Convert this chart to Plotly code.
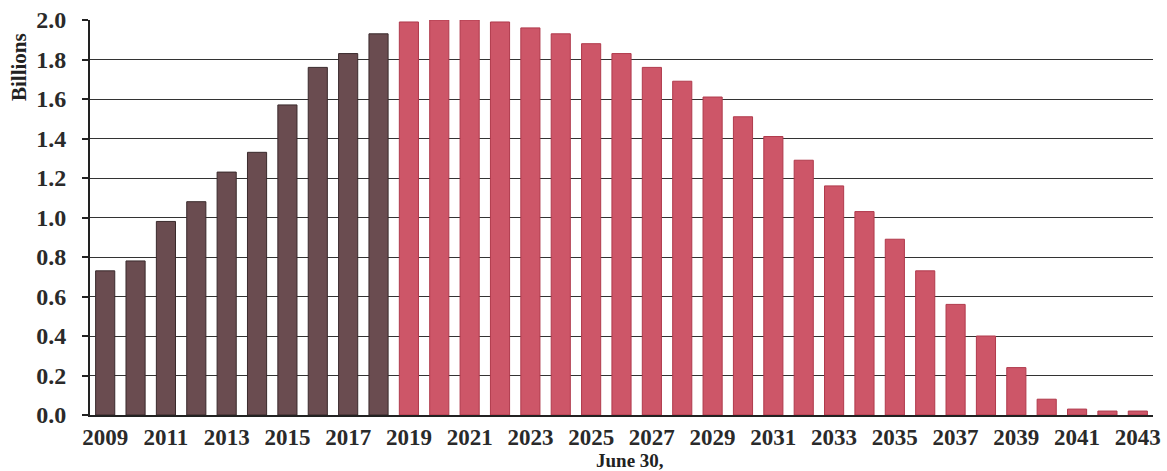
import plotly.graph_objects as go

actual_years = list(range(2009, 2019))
actual_values = [0.73, 0.78, 0.98, 1.08, 1.23, 1.33, 1.57, 1.76, 1.83, 1.93]

proj_years = list(range(2019, 2044))
proj_values = [1.99, 2.0, 2.0, 1.99, 1.96, 1.93, 1.88, 1.83, 1.76, 1.69,
               1.61, 1.51, 1.41, 1.29, 1.16, 1.03, 0.89, 0.73, 0.56, 0.40,
               0.24, 0.08, 0.03, 0.02, 0.02]

tick_years = list(range(2009, 2044, 2))
y_ticks = [0.0, 0.2, 0.4, 0.6, 0.8, 1.0, 1.2, 1.4, 1.6, 1.8, 2.0]

font_family = "Liberation Serif"

fig = go.Figure()
fig.add_trace(go.Bar(x=actual_years, y=actual_values, name="Actual",
                     marker=dict(color="#6a4c50", line=dict(color="#3a2a2c", width=1))))
fig.add_trace(go.Bar(x=proj_years, y=proj_values, name="Projected",
                     marker=dict(color="#cd5668", line=dict(color="#b03a4c", width=1))))

fig.update_layout(
    width=1167, height=471,
    margin=dict(l=90, r=14, t=20, b=56),
    paper_bgcolor="white", plot_bgcolor="white",
    barmode="overlay", bargap=0.37,
    showlegend=False,
    font=dict(family=font_family, color="#222222"),
)
fig.update_xaxes(
    range=[2008.5, 2043.5], automargin=False,
    tickmode="array", tickvals=tick_years, ticktext=[str(y) for y in tick_years],
    tickfont=dict(family=font_family, size=23, color="#2a2a2a", weight="bold"),
    showgrid=False, zeroline=False,
    showline=True, linecolor="#222222", linewidth=2,
    ticks="", ticklabelstandoff=0,
)
fig.update_yaxes(
    range=[0, 2.0], automargin=False,
    tickmode="array", tickvals=y_ticks, ticktext=[f"{v:.1f}" for v in y_ticks],
    tickfont=dict(family=font_family, size=24, color="#2a2a2a", weight="bold"),
    showgrid=True, gridcolor="#333333", gridwidth=1.4,
    zeroline=False,
    showline=True, linecolor="#222222", linewidth=2,
    ticks="outside", ticklen=6, tickcolor="#222222", tickwidth=1.5,
    ticklabelstandoff=11,
)
fig.add_annotation(
    text="<b>Billions</b>", textangle=-90,
    xref="paper", yref="paper", x=(19 - 90) / 1063, y=(415 - 67) / 395,
    xanchor="center", yanchor="middle", showarrow=False,
    font=dict(family=font_family, size=21, color="#222222"),
)
fig.add_annotation(
    text="<b>June 30,</b>",
    xref="paper", yref="paper", x=(630 - 90) / 1063, y=-(460 - 415) / 395,
    xanchor="center", yanchor="middle", showarrow=False,
    font=dict(family=font_family, size=19, color="#222222"),
)

fig.write_html("out.html", config={"displayModeBar": False},
               post_script="document.body.style.margin='0';")
